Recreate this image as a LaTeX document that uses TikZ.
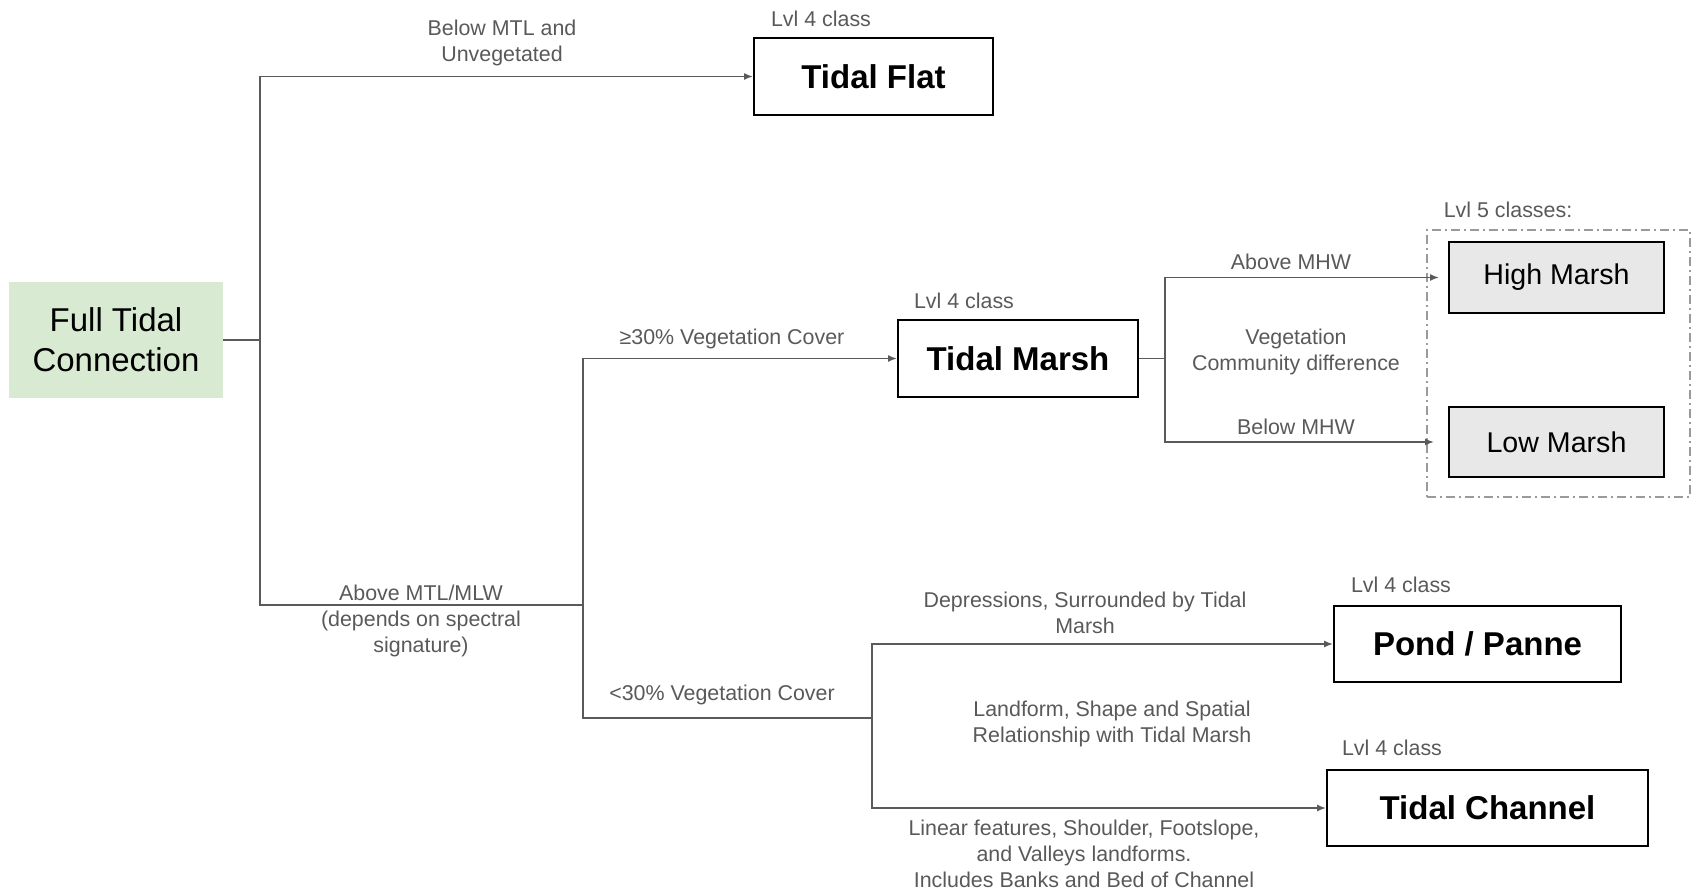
\documentclass[tikz,border=0pt]{standalone}
\usepackage{fontspec}
\setmainfont{Liberation Sans}
\usetikzlibrary{arrows.meta}
\definecolor{lblgray}{HTML}{595959}
\definecolor{linegray}{HTML}{5A5A5A}
\definecolor{greenfill}{HTML}{D9EAD3}
\definecolor{boxgray}{HTML}{E8E8E8}
\definecolor{dashgray}{HTML}{9A9A9A}
\begin{document}
\begin{tikzpicture}[x=1pt,y=-1pt,
  classbox/.style={draw=black,line width=2pt,fill=white,inner sep=0pt,
    font=\fontsize{33}{40}\selectfont\bfseries},
  subbox/.style={draw=black,line width=2pt,fill=boxgray,inner sep=0pt,
    minimum width=215pt,font=\fontsize{28.6}{34}\selectfont},
  lbl/.style={text=lblgray,align=center,inner sep=0pt,
    font=\fontsize{21.4}{26}\selectfont},
  conn/.style={draw=linegray,line width=1.4pt},
  arr/.style={conn,-{Latex[length=9pt,width=7pt]}}
]
\useasboundingbox (0,0) rectangle (1692,890);

% boxes
\node[fill=greenfill,minimum width=214pt,minimum height=116pt,inner sep=0pt,
  align=center,font=\fontsize{33}{40}\selectfont] (ftc) at (116,340) {Full Tidal\\Connection};
\node[classbox,minimum width=239pt,minimum height=77pt] (flat) at (873.5,76.5) {Tidal Flat};
\node[classbox,minimum width=240pt,minimum height=77pt] (marsh) at (1018,358.5) {Tidal Marsh};
\node[draw=dashgray,line width=1.2pt,dash pattern=on 9pt off 4pt on 2pt off 4pt,
  minimum width=263pt,minimum height=267pt,inner sep=0pt] (l5) at (1558.5,363.5) {};
\node[subbox,minimum height=71pt] (high) at (1556.5,277.5) {High Marsh};
\node[subbox,minimum height=70pt] (low) at (1556.5,442) {Low Marsh};
\node[classbox,minimum width=287pt,minimum height=76pt] (pond) at (1477.5,644) {Pond / Panne};
\node[classbox,minimum width=321pt,minimum height=76pt] (channel) at (1487.5,808) {Tidal Channel};

% junctions
\coordinate (j1) at (260,340);
\coordinate (j2) at (583,605);
\coordinate (j3) at (872,718);
\coordinate (j4) at (1165,358.5);

% connectors
\draw[conn] (ftc.east) -- (j1);
\draw[arr] (j1) |- (flat.west);
\draw[conn] (j1) |- (j2);
\draw[arr] (j2) |- (marsh.west);
\draw[conn] (j2) |- (j3);
\draw[arr] (j3) |- (pond.west);
\draw[arr] (j3) |- (channel.west);
\draw[conn] (marsh.east) -- (j4);
\draw[arr,shorten >=9pt] (j4) |- (high.west);
\draw[arr,shorten >=14pt] (j4) |- (low.west);

% labels
\node[lbl] (lf) at (821,19) {Lvl 4 class};
\node[lbl] (lbm) at (502,43) {Below MTL and\\Unvegetated};
\node[lbl] (lm) at (964,301) {Lvl 4 class};
\node[lbl] (l30a) at (732,339) {≥30\% Vegetation Cover};
\node[lbl] (lam) at (1291,262) {Above MHW};
\node[lbl] (lvc) at (1296,352) {Vegetation\\Community difference};
\node[lbl] (lbmh) at (1296,427) {Below MHW};
\node[lbl] (l5t) at (1508,210) {Lvl 5 classes:};
\node[lbl] (lamtl) at (421,621) {Above MTL/MLW\\(depends on spectral\\signature)};
\node[lbl] (l30b) at (722,695) {<30\% Vegetation Cover};
\node[lbl] (ldep) at (1085,613) {Depressions, Surrounded by Tidal\\Marsh};
\node[lbl] (lp) at (1401,585) {Lvl 4 class};
\node[lbl] (lland) at (1112,724) {Landform, Shape and Spatial\\Relationship with Tidal Marsh};
\node[lbl] (lc) at (1392,748) {Lvl 4 class};
\node[lbl] (llin) at (1084,854) {Linear features, Shoulder, Footslope,\\and Valleys landforms.\\Includes Banks and Bed of Channel};
\end{tikzpicture}
\end{document}
